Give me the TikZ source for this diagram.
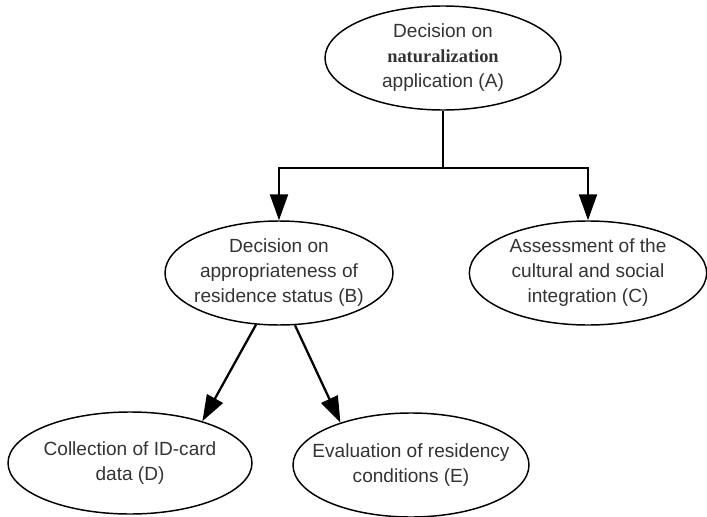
\documentclass[tikz,border=0pt]{standalone}
\usepackage{fontspec}
\setmainfont{Liberation Sans}
\newfontfamily\serifword{Liberation Serif}
\usetikzlibrary{shapes.geometric,arrows.meta}

\begin{document}
\begin{tikzpicture}[x=0.75pt,y=-0.75pt,
  bubble/.style={ellipse, draw, line width=1.1pt, inner xsep=-15pt, inner ysep=0pt,
    align=center, text=black!80, font=\fontsize{14.3}{18.75}\selectfont},
  wire/.style={line width=1.7pt},
  link/.style={wire, -{Triangle[length=19.5pt,width=13.5pt]}}]
\useasboundingbox (0,0) rectangle (707,517);

% decision tree nodes
\node[bubble, minimum width=177pt, minimum height=78pt] (A) at (443,58)
  {Decision on\\{\serifword\bfseries\fontsize{13.8}{18.75}\selectfont naturalization}\\application (A)};
\node[bubble, minimum width=171pt, minimum height=78pt] (B) at (279,273)
  {Decision on\\appropriateness of\\residence status (B)};
\node[bubble, minimum width=178pt, minimum height=78pt] (C) at (588,273)
  {Assessment of the\\cultural and social\\integration (C)};
\node[bubble, minimum width=183pt, minimum height=76.5pt] (D) at (130,463)
  {Collection of ID-card\\data (D)};
\node[bubble, minimum width=177pt, minimum height=78pt] (E) at (411,465)
  {Evaluation of residency\\conditions (E)};

% branching from A to B and C
\coordinate (J) at (443,168);
\draw[wire] (A.south) -- (J);
\draw[link] (J) -| (B.north);
\draw[link] (J) -| (C.north);

% branching from B to D and E
\draw[link] (B.246.5) -- (D.30);
\draw[link] (B.287) -- (E.149);
\end{tikzpicture}
\end{document}
